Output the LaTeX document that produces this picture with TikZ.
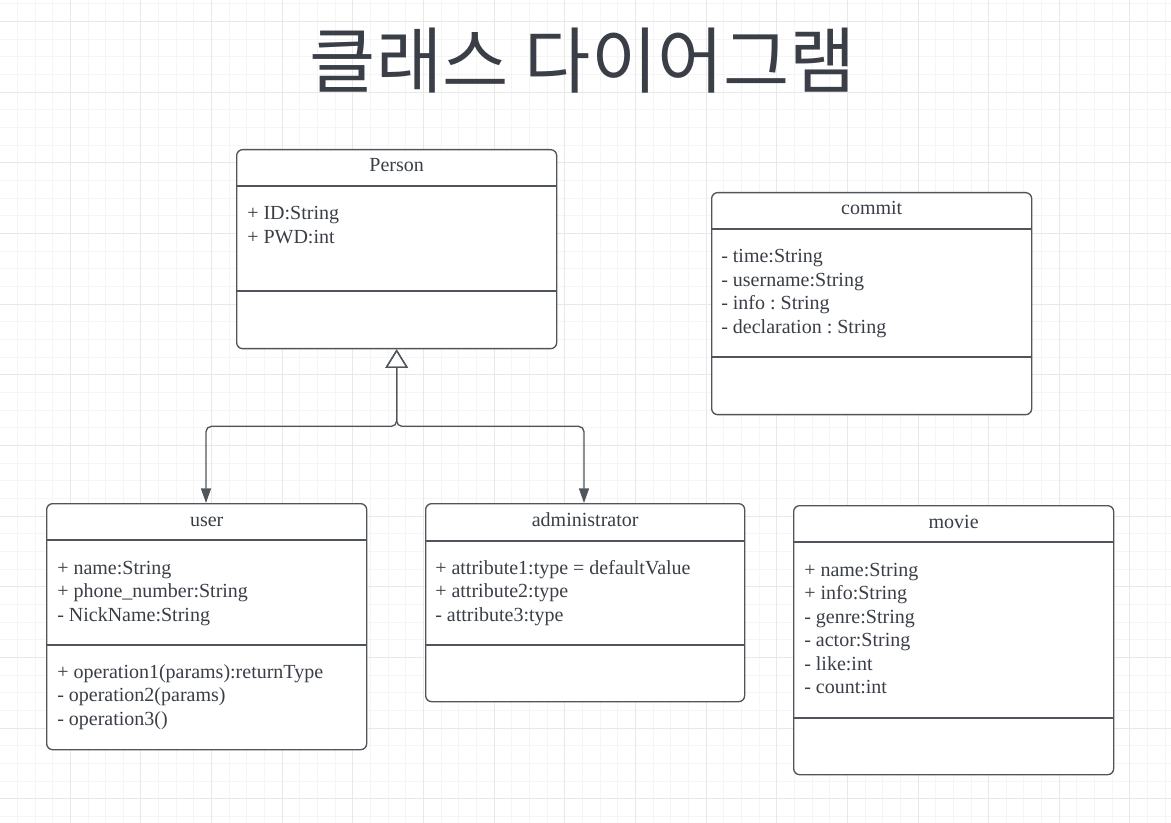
\documentclass[tikz,border=0pt]{standalone}
\usepackage{fontspec}
\setmainfont{Liberation Serif}
\newfontfamily\krfont{Noto Sans CJK KR}
\usetikzlibrary{arrows.meta}
\definecolor{ink}{HTML}{3A3F47}
\definecolor{edge}{HTML}{50555C}
\definecolor{gridminor}{HTML}{F5F5F5}
\definecolor{gridmajor}{HTML}{E8E8E8}
\frenchspacing
\begin{document}
\begin{tikzpicture}[x=0.75pt,y=-0.75pt,
  classbox/.style={draw=edge, line width=1pt, rounded corners=4.5pt, fill=white, anchor=north west, inner sep=0pt, minimum width=240pt},
  member/.style={anchor=base west, inner sep=0pt, text=ink, font=\fontsize{15}{18}\selectfont\frenchspacing},
  ctitle/.style={anchor=base, inner sep=0pt, text=ink, font=\fontsize{15}{18}\selectfont},
  divider/.style={draw=edge, line width=1pt},
  conn/.style={draw=edge, line width=1pt, rounded corners=4pt,
    {Triangle[open, width=17pt, length=14pt]}-{Triangle[width=7.5pt, length=11pt]}}]
\useasboundingbox (0,0) rectangle (1171,823);
\fill[white] (0,0) rectangle (1171,823);
% grid
\foreach \i in {0,...,67} {
  \draw[gridminor, line width=0.75pt] (\i*17.66-0.3,0) -- (\i*17.66-0.3,823);
}
\foreach \j in {0,...,47} {
  \draw[gridminor, line width=0.75pt] (0,\j*17.66+4.0) -- (1171,\j*17.66+4.0);
}
\foreach \i in {0,...,16} {
  \draw[gridmajor, line width=0.75pt] (\i*70.64-0.3,0) -- (\i*70.64-0.3,823);
}
\foreach \j in {0,...,11} {
  \draw[gridmajor, line width=0.75pt] (0,\j*70.64+21.7) -- (1171,\j*70.64+21.7);
}
% title
\node[text=ink, inner sep=0pt, font=\krfont\fontsize{54}{60}\selectfont] (title) at (583,61) {클래스 다이어그램};

% Person
\node[classbox, minimum height=149.25pt] (person) at (236,149) {};
\draw[divider] (person.west |- 0,186) -- (person.east |- 0,186);
\draw[divider] (person.west |- 0,291) -- (person.east |- 0,291);
\node[ctitle] (person-t) at (person.north |- 0,172) {Person};
\node[member] (person-a1) at (247,220) {+ ID:String};
\node[member] (person-a2) at (247,243.5) {+ PWD:int};

% commit
\node[classbox, minimum height=166.5pt] (commit) at (711,192) {};
\draw[divider] (commit.west |- 0,229) -- (commit.east |- 0,229);
\draw[divider] (commit.west |- 0,357) -- (commit.east |- 0,357);
\node[ctitle] (commit-t) at (commit.north |- 0,215) {commit};
\node[member] (commit-a1) at (721,263) {- time:String};
\node[member] (commit-a2) at (721,286.5) {- username:String};
\node[member] (commit-a3) at (721,310) {- info : String};
\node[member] (commit-a4) at (721,333.5) {- declaration : String};

% user
\node[classbox, minimum height=184.5pt] (user) at (46,503) {};
\draw[divider] (user.west |- 0,540) -- (user.east |- 0,540);
\draw[divider] (user.west |- 0,645) -- (user.east |- 0,645);
\node[ctitle] (user-t) at (user.north |- 0,526) {user};
\node[member] (user-a1) at (57,574) {+ name:String};
\node[member] (user-a2) at (57,597.5) {+ phone\_number:String};
\node[member] (user-a3) at (57,621) {- NickName:String};
\node[member] (user-m1) at (57,678) {+ operation1(params):returnType};
\node[member] (user-m2) at (57,701.5) {- operation2(params)};
\node[member] (user-m3) at (57,725) {- operation3()};

% administrator
\node[classbox, minimum width=239.25pt, minimum height=148.5pt] (admin) at (425,503) {};
\draw[divider] (admin.west |- 0,541) -- (admin.east |- 0,541);
\draw[divider] (admin.west |- 0,645) -- (admin.east |- 0,645);
\node[ctitle] (admin-t) at (admin.north |- 0,526) {administrator};
\node[member] (admin-a1) at (435,574) {+ attribute1:type = defaultValue};
\node[member] (admin-a2) at (435,597.5) {+ attribute2:type};
\node[member] (admin-a3) at (435,621) {- attribute3:type};

% movie
\node[classbox, minimum height=201.75pt] (movie) at (793,505) {};
\draw[divider] (movie.west |- 0,542) -- (movie.east |- 0,542);
\draw[divider] (movie.west |- 0,718) -- (movie.east |- 0,718);
\node[ctitle] (movie-t) at (movie.north |- 0,528) {movie};
\node[member] (movie-a1) at (804,576) {+ name:String};
\node[member] (movie-a2) at (804,599.5) {+ info:String};
\node[member] (movie-a3) at (804,623) {- genre:String};
\node[member] (movie-a4) at (804,646.5) {- actor:String};
\node[member] (movie-a5) at (804,670) {- like:int};
\node[member] (movie-a6) at (804,693.5) {- count:int};

% generalization connectors
\draw[conn] (person.south) -- ++(0,77) -| (user.north -| 206,0);
\draw[conn] (person.south) -- ++(0,77) -| (admin.north -| 584,0);
\end{tikzpicture}
\end{document}
